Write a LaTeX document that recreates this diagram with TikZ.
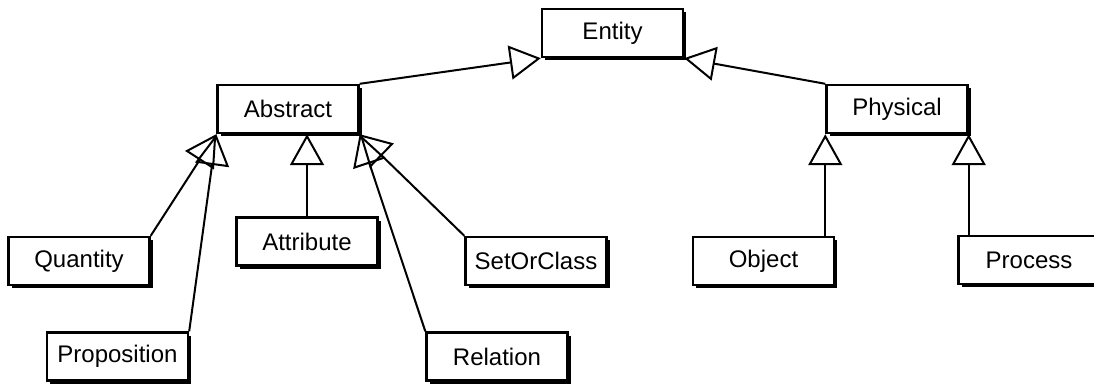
\documentclass[tikz,border=0pt]{standalone}
\usepackage{fontspec}
\setmainfont{Liberation Sans}
\usetikzlibrary{arrows.meta,shadows}
\begin{document}
\begin{tikzpicture}[x=0.5pt,y=-0.5pt,
  cls/.style={draw, line width=1.2pt, fill=white, minimum width=70.5pt, minimum height=24pt,
    inner sep=0pt, font=\fontsize{12}{14}\selectfont,
    drop shadow={shadow xshift=1.6pt, shadow yshift=-1.6pt, opacity=1, fill=black}},
  isa/.style={line width=1pt, -{Triangle[open, length=15.5pt, width=17pt, line width=1pt]}}]
\clip (0,0) rectangle (1094,385);
\fill[white] (0,0) rectangle (1094,385);
\node[cls] (entity) at (612.5,33) {Entity};
\node[cls] (abstract) at (288,109) {Abstract};
\node[cls] (physical) at (897,109) {Physical};
\node[cls] (quantity) at (79,261) {Quantity};
\node[cls] (attribute) at (307,241.5) {Attribute};
\node[cls] (setorclass) at (536,261) {SetOrClass};
\node[cls] (proposition) at (117.5,356.5) {Proposition};
\node[cls] (relation) at (497,356.5) {Relation};
\node[cls] (object) at (763.5,261) {Object};
\node[cls] (process) at (1029,260) {Process};
\coordinate (objtop) at (physical.south west |- object.north);
\coordinate (proctop) at (physical.south east |- process.north);
\draw[isa] (abstract.north east) -- (entity.south west);
\draw[isa] (physical.north west) -- (entity.south east);
\draw[isa] (quantity.north east) -- (abstract.south west);
\draw[isa] (proposition.north east) -- (abstract.south west);
\draw[isa] (attribute.north) -- (attribute.north |- abstract.south);
\draw[isa] (setorclass.north west) -- (abstract.south east);
\draw[isa] (relation.north west) -- (abstract.south east);
\draw[isa] (objtop) -- (physical.south west);
\draw[isa] (proctop) -- (physical.south east);
\end{tikzpicture}
\end{document}
